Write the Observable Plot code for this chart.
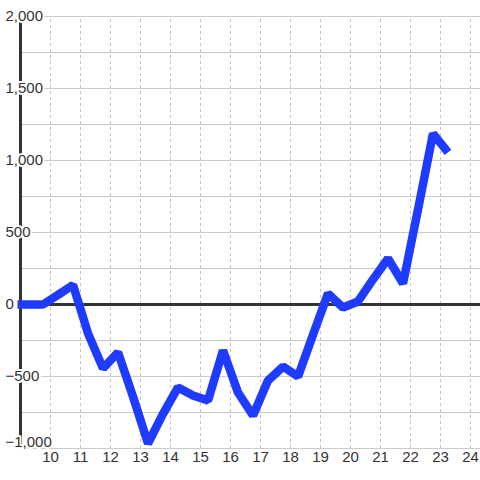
<!DOCTYPE html>
<html>
<head>
<meta charset="utf-8">
<script src="https://cdn.jsdelivr.net/npm/d3@7"></script>
<script src="https://cdn.jsdelivr.net/npm/@observablehq/plot@0.6"></script>
<style>
  html, body { margin: 0; padding: 0; background: #ffffff; }
  #chart { width: 480px; height: 480px; }
</style>
</head>
<body>
<div id="chart"></div>
<script>
const xs = [8.9, 9.75, 10.25, 10.75, 11.25, 11.75, 12.25, 12.75, 13.25, 13.75, 14.25, 14.75, 15.25, 15.75, 16.25, 16.75, 17.25, 17.75, 18.25, 18.75, 19.25, 19.75, 20.25, 20.75, 21.25, 21.75, 22.25, 22.75, 23.25];
const ys = [0, 0, 67, 135, -200, -444, -333, -640, -965, -760, -576, -632, -667, -319, -611, -771, -528, -431, -500, -210, 76, -21, 21, 174, 319, 146, 660, 1187, 1056];
const xTicks = [10, 11, 12, 13, 14, 15, 16, 17, 18, 19, 20, 21, 22, 23, 24];
const yTicks = [-500, 0, 500, 1000, 1500, 2000];
const yBottomTick = [-1000];
const yGrid = [-1000, -750, -500, -250, 250, 500, 750, 1000, 1250, 1500, 1750, 2000];

const data = xs.map((x, i) => ({x, y: ys[i]}));
const fmt = d3.format(",");
const labelStyle = {frameAnchor: "left", dx: -15, textAnchor: "start", fontSize: 15, fill: "#333333", stroke: "#ffffff", strokeWidth: 4};

const chart = Plot.plot({
  width: 480,
  height: 480,
  marginLeft: 20,
  marginRight: 0,
  marginTop: 16,
  marginBottom: 32,
  style: {fontFamily: "Liberation Sans, Arial, sans-serif", background: "#ffffff"},
  x: {domain: [9, 24.333], axis: null},
  y: {domain: [-1000, 2000], axis: null},
  marks: [
    Plot.ruleX(xTicks, {x: d => d, y1: -1000, y2: 2000, stroke: "#c4c4c4", strokeWidth: 1, strokeDasharray: "3,3"}),
    Plot.ruleY(yGrid, {y: d => d, stroke: "#cccccc", strokeWidth: 1}),
    Plot.ruleY([0], {y: d => d, stroke: "#333333", strokeWidth: 3}),
    Plot.ruleX([9], {x: d => d, y1: -1000, y2: 2000, stroke: "#333333", strokeWidth: 3}),
    Plot.text(yTicks, {y: d => d, text: d => fmt(d), ...labelStyle}),
    Plot.text(yBottomTick, {y: d => d, text: d => fmt(d), ...labelStyle, dy: -6}),
    Plot.text(xTicks, {x: d => d, text: d => String(d), frameAnchor: "bottom", dy: 13, fontSize: 15, fill: "#333333"}),
    Plot.line(data, {x: "x", y: "y", stroke: "#1f3bff", strokeWidth: 8.5, strokeLinejoin: "miter", strokeLinecap: "butt"})
  ]
});
document.getElementById("chart").appendChild(chart);
</script>
</body>
</html>
